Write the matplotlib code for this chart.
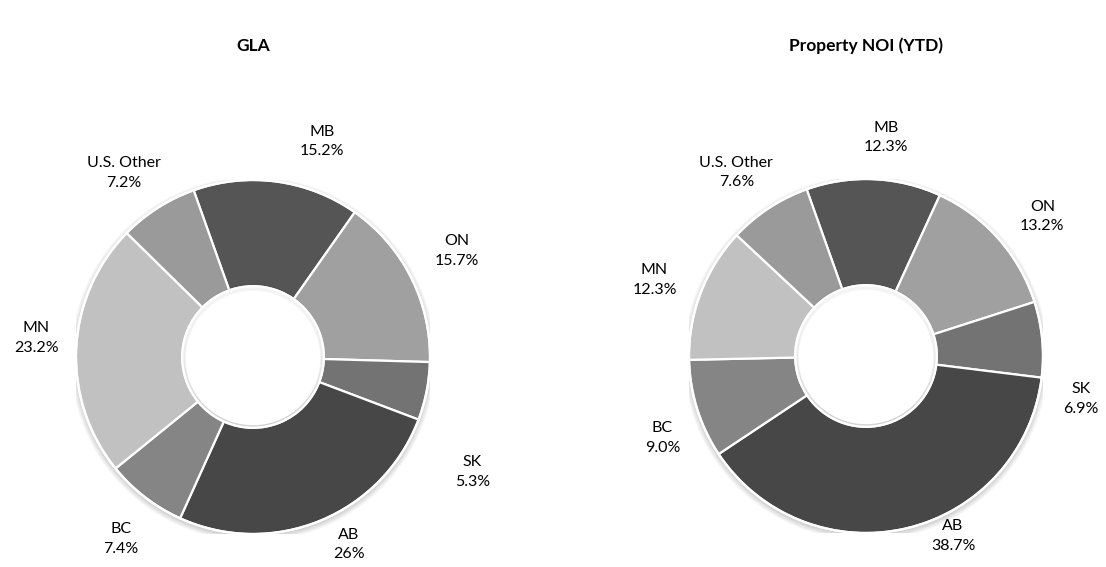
import numpy as np
import matplotlib.pyplot as plt
from matplotlib.patches import Circle

plt.rcParams['font.family'] = ['Lato', 'DejaVu Sans']

# data, clockwise from the first slice
regions = ['MB', 'ON', 'SK', 'AB', 'BC', 'MN', 'U.S. Other']
gla_pct = [15.2, 15.7, 5.3, 26.0, 7.4, 23.2, 7.2]
gla_lbl = ['15.2%', '15.7%', '5.3%', '26%', '7.4%', '23.2%', '7.2%']
noi_pct = [12.3, 13.2, 6.9, 38.7, 9.0, 12.3, 7.6]
noi_lbl = ['12.3%', '13.2%', '6.9%', '38.7%', '9.0%', '12.3%', '7.6%']

colors = ['#555555', '#a0a0a0', '#737373', '#474747', '#858585', '#c1c1c1', '#9a9a9a']

# label placement: (degrees clockwise from top, radius as fraction of outer radius)
gla_label_pos = [(17.8, 1.28), (62.5, 1.30), (117.6, 1.40), (153, 1.19),
                 (216, 1.27), (275, 1.23), (325, 1.27)]
noi_label_pos = [(5.2, 1.24), (51.7, 1.27), (101.3, 1.24), (154.2, 1.13),
                 (248.1, 1.24), (289.8, 1.27), (324.8, 1.27)]

W, H = 1106, 567
R = 177  # outer radius in px
fig = plt.figure(figsize=(W / 100, H / 100), dpi=100)


def donut(cx, cy, values, pct_labels, label_pos, title):
    ax = fig.add_axes([(cx - R) / W, (H - cy - R) / H, 2 * R / W, 2 * R / H])

    # soft outer shadow
    for k in range(6):
        ax.add_patch(Circle((0, -0.012), 1.0 + 0.006 * k, color='#000000',
                            alpha=0.03, lw=0, zorder=0))

    ax.pie(values, colors=colors, startangle=109.6, counterclock=False,
           radius=1.0, wedgeprops=dict(width=0.6, edgecolor='white', linewidth=1.6))

    # hole with inner shadow
    ax.add_patch(Circle((0, 0), 0.4, color='white', lw=0, zorder=3))
    for k in range(5):
        ax.add_patch(Circle((0, 0.01 - 0.004 * k), 0.4 - 0.004 * k, fill=False,
                            edgecolor='#000000', alpha=0.035, lw=1.2, zorder=4))
    ax.add_patch(Circle((0, 0), 0.4, fill=False, edgecolor='white', lw=1.6, zorder=5))
    ax.add_patch(Circle((0, 0), 1.0, fill=False, edgecolor='white', lw=1.6, zorder=5))

    ax.set_xlim(-1, 1)
    ax.set_ylim(-1, 1)
    ax.set_aspect('equal')
    ax.axis('off')

    for name, pl, (ang, r) in zip(regions, pct_labels, label_pos):
        t = np.radians(ang)
        ax.text(r * np.sin(t), r * np.cos(t), name + '\n' + pl, ha='center', va='center',
                fontsize=11.5, color='#000000', linespacing=1.5, clip_on=False)

    fig.text(cx / W, 1 - 46 / H, title, ha='center', va='center',
             fontsize=12.5, fontweight='bold', color='#000000')


donut(253, 357, gla_pct, gla_lbl, gla_label_pos, 'GLA')
donut(866, 356, noi_pct, noi_lbl, noi_label_pos, 'Property NOI (YTD)')

fig.savefig('out.png', dpi=100, facecolor='white')
